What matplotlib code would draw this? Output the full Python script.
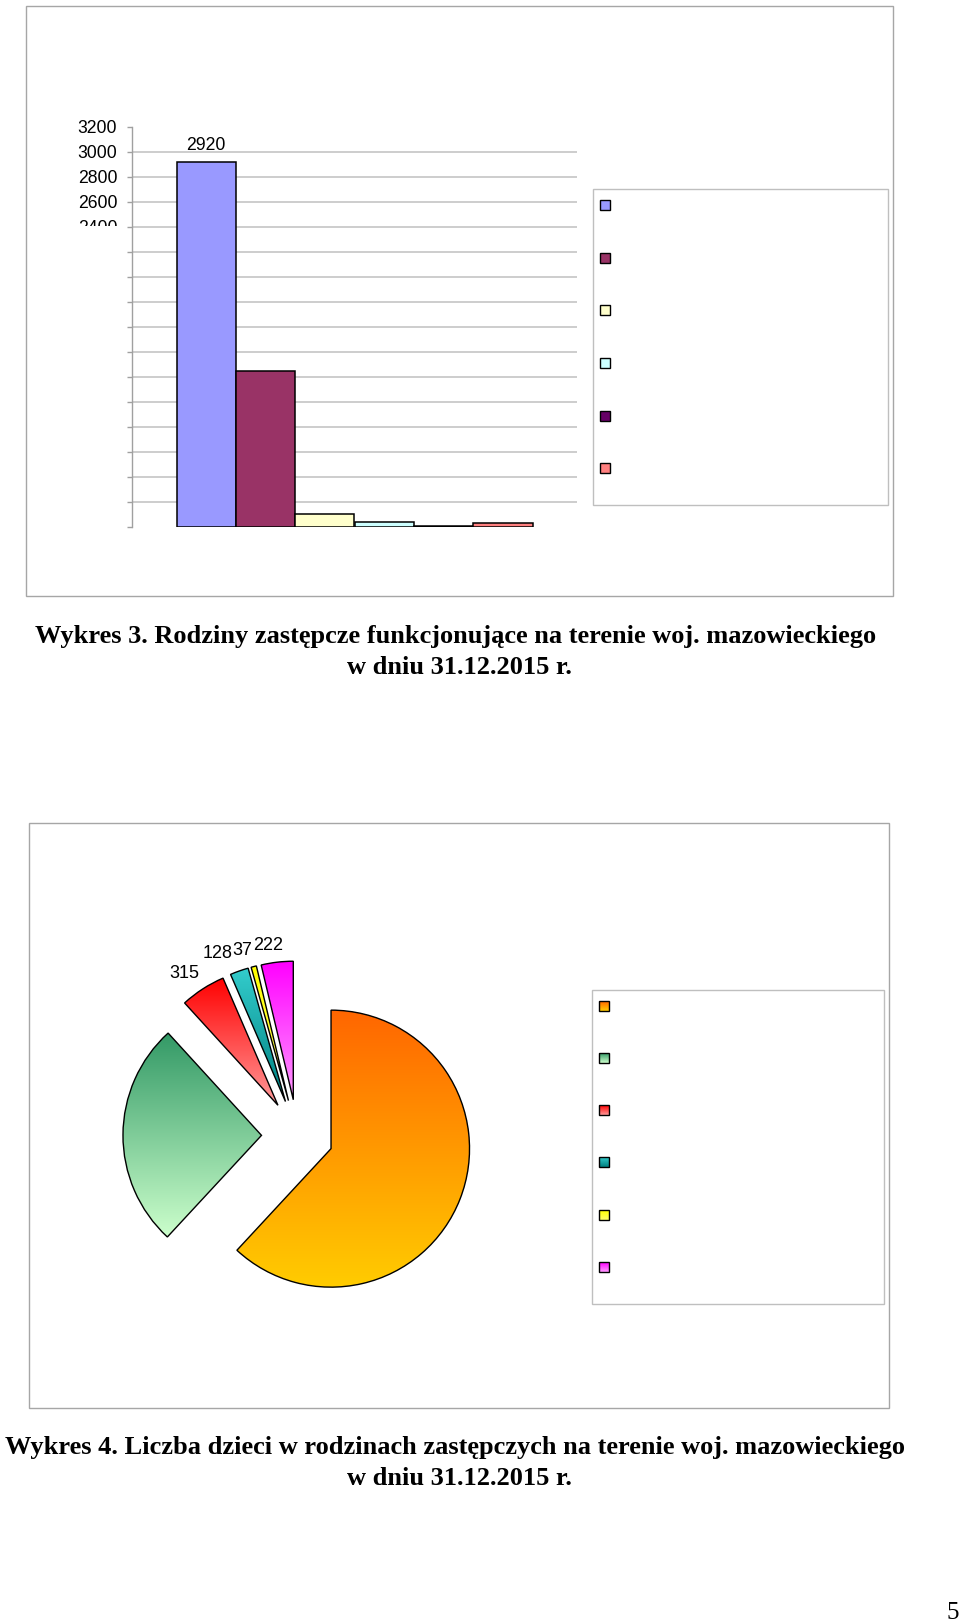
import numpy as np
import matplotlib
matplotlib.use('Agg')
import matplotlib.pyplot as plt
from matplotlib.patches import Rectangle
from matplotlib.colors import LinearSegmentedColormap
from matplotlib.transforms import Bbox, TransformedBbox

plt.rcParams['font.family'] = ['Liberation Sans', 'DejaVu Sans']

# Wykres 3 - liczba rodzin zastepczych
bar_values = [2920, 1250, 100, 40, 10, 32]
bar_colors = ['#9999FF', '#993366', '#FFFFCC', '#CCFFFF', '#660066', '#FF8080']
bar_ticks = list(range(0, 3201, 200))
bar_shown_ticks = [2400, 2600, 2800, 3000, 3200]

# Wykres 4 - liczba dzieci w rodzinach zastepczych
pie_values = [3690, 1570, 315, 128, 37, 222]
pie_labelled = [False, False, True, True, True, True]
pie_grad = [('#FF6600', '#FFCC00'), ('#339966', '#CCFFCC'), ('#FF0000', '#FF9999'),
            ('#33CCCC', '#008080'), ('#FFFF00', '#FFFF66'), ('#FF00FF', '#FF99FF')]

caption3 = ['Wykres 3. Rodziny zastępcze funkcjonujące na terenie woj. mazowieckiego',
            'w dniu 31.12.2015 r.']
caption4 = ['Wykres 4. Liczba dzieci w rodzinach zastępczych na terenie woj. mazowieckiego',
            'w dniu 31.12.2015 r.']

W, H = 960, 1623
fig = plt.figure(figsize=(9.6, 16.23), dpi=100)


def box(x0, y0, x1, y1):
    # pixel box, origin top-left -> add_axes rect
    return [x0 / W, 1 - y1 / H, (x1 - x0) / W, (y1 - y0) / H]


def frame(x0, y0, x1, y1, color='#A6A6A6'):
    fig.patches.append(Rectangle((x0 / W, 1 - y1 / H), (x1 - x0) / W, (y1 - y0) / H,
                                 transform=fig.transFigure, fill=False,
                                 edgecolor=color, lw=1.0))


def legend_box(x0, y0, x1, y1, mx, my0, dy, fills):
    lax = fig.add_axes(box(x0, y0, x1, y1))
    lax.set_xlim(x0, x1)
    lax.set_ylim(y1, y0)
    lax.axis('off')
    lax.add_patch(Rectangle((x0 + 0.5, y0 + 0.5), x1 - x0 - 1, y1 - y0 - 1, fill=False,
                            edgecolor='#BFBFBF', lw=1.0, clip_on=False))
    s = 10
    for i, f in enumerate(fills):
        cx, cy = mx, my0 + i * dy
        if isinstance(f, tuple):
            cm = LinearSegmentedColormap.from_list('lg', list(f))
            lax.imshow(np.linspace(0, 1, 64).reshape(-1, 1), cmap=cm, aspect='auto',
                       extent=(cx - s / 2, cx + s / 2, cy + s / 2, cy - s / 2),
                       origin='upper', interpolation='bilinear', zorder=2)
            fc = 'none'
        else:
            fc = f
        lax.add_patch(Rectangle((cx - s / 2, cy - s / 2), s, s, facecolor=fc,
                                edgecolor='black', lw=1.0, zorder=3))
    lax.set_xlim(x0, x1)
    lax.set_ylim(y1, y0)
    return lax


# ---------------- Wykres 3 ----------------
frame(25.7, 5.7, 892.7, 595.7)

ax1 = fig.add_axes(box(132, 126.7, 577, 527))
n = len(bar_values)
bw = 0.8 / n
xs = [-0.4 + bw * (i + 0.5) for i in range(n)]
ax1.bar(xs, bar_values, width=bw, color=bar_colors, edgecolor='black', linewidth=1.1, zorder=3)
ax1.set_xlim(-0.5, 0.5)
ax1.set_ylim(0, 3200)
for v in bar_ticks[1:-1]:
    ax1.axhline(v, color='#C0C0C0', lw=1.1, zorder=1)
for sp in ['top', 'right', 'bottom']:
    ax1.spines[sp].set_visible(False)
ax1.spines['left'].set_color('#A0A0A0')
ax1.spines['left'].set_linewidth(1.0)
ax1.set_xticks([])
ax1.set_yticks(bar_ticks, [str(t) if t in bar_shown_ticks else '' for t in bar_ticks])
ax1.tick_params(axis='y', direction='out', length=3.6, color='#A0A0A0', width=1.0,
                pad=7, labelsize=12.7)
ax1.patch.set_alpha(0)

# the 2400 label is cut in half in the original
clip = TransformedBbox(Bbox.from_extents(0, 1 - 226 / H, 1, 1), fig.transFigure)
for t in ax1.yaxis.get_major_ticks():
    if t.label1.get_text() == '2400':
        t.label1.set_clip_box(clip)
        t.label1.set_clip_on(True)

ax1.annotate(str(bar_values[0]), (xs[0], bar_values[0]), xytext=(0, 11.5),
             textcoords='offset points', ha='center', va='center', fontsize=12.7)

legend_box(592.3, 189, 888, 505.6, 605, 205.3, 52.6, bar_colors)

fig.text(455.7 / W, 1 - 643.3 / H, caption3[0], ha='center', va='baseline',
         family='Liberation Serif', weight='bold', fontsize=19)
fig.text(459 / W, 1 - 674 / H, caption3[1], ha='center', va='baseline',
         family='Liberation Serif', weight='bold', fontsize=19)

# ---------------- Wykres 4 ----------------
frame(29.3, 823.3, 888.7, 1408.3)

cx, cy, r = 297.5, 1135.5, 138.5
half = 1.7 * r
expl = 0.26
ax2 = fig.add_axes(box(cx - half, cy - half, cx + half, cy + half))
labels = [str(v) if s else '' for v, s in zip(pie_values, pie_labelled)]
wedges, texts = ax2.pie(pie_values, labels=labels, explode=[expl] * len(pie_values),
                        startangle=90, counterclock=False, labeldistance=1.15,
                        wedgeprops=dict(edgecolor='black', linewidth=1.0, facecolor='none'),
                        textprops=dict(fontsize=13))
ax2.set_xlim(-1.7, 1.7)
ax2.set_ylim(-1.7, 1.7)
for wd, (c0, c1) in zip(wedges, pie_grad):
    bb = wd.get_path().get_extents()
    cm = LinearSegmentedColormap.from_list('g', [c0, c1])
    im = ax2.imshow(np.linspace(0, 1, 256).reshape(-1, 1), cmap=cm,
                    extent=(bb.x0, bb.x1, bb.y0, bb.y1), origin='upper',
                    aspect='auto', interpolation='bilinear', zorder=0)
    im.set_clip_path(wd)
ax2.set_xlim(-1.7, 1.7)
ax2.set_ylim(-1.7, 1.7)
ax2.set_aspect('equal')
ax2.axis('off')

# put the value labels just outside the exploded slices, like the original
fig.canvas.draw()
placed = []
for t, wd in zip(texts, wedges):
    if not t.get_text():
        continue
    th = np.deg2rad((wd.theta1 + wd.theta2) / 2 + 2)
    tb = t.get_window_extent()
    tw, tht = tb.width / r, tb.height * 0.7 / r
    d = 1 + expl + 10 / r + 0.5 * (tw * abs(np.cos(th)) + tht * abs(np.sin(th)))
    placed.append([t, d * np.cos(th), d * np.sin(th), tw])
# labels that would overlap get pushed left
for i in range(len(placed) - 2, -1, -1):
    t, x, y, tw = placed[i]
    nx, ntw = placed[i + 1][1], placed[i + 1][3]
    over = (x + tw / 2) - (nx - ntw / 2)
    if over > 0:
        placed[i][1] = x - over
for t, x, y, tw in placed:
    t.set_position((x, y))
    t.set_ha('center')
    t.set_va('center')

legend_box(591, 990, 884, 1305, 603.5, 1005.8, 52.2, pie_grad)

fig.text(455 / W, 1 - 1454 / H, caption4[0], ha='center', va='baseline',
         family='Liberation Serif', weight='bold', fontsize=19)
fig.text(459 / W, 1 - 1485 / H, caption4[1], ha='center', va='baseline',
         family='Liberation Serif', weight='bold', fontsize=19)

fig.text(953 / W, 1 - 1613 / H, '5', ha='center', va='center',
         family='Liberation Serif', fontsize=18)

fig.savefig('out.png', dpi=100, facecolor='white')
